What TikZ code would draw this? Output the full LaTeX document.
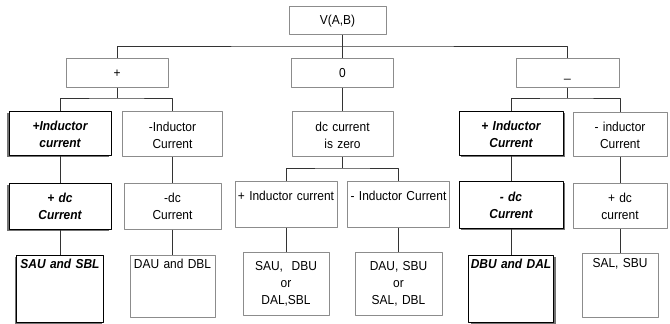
\documentclass[tikz,border=0pt]{standalone}
\usepackage{fontspec}
\setmainfont{Liberation Sans}[FakeStretch=0.92]
\usepackage{tikz}
\usetikzlibrary{shapes,backgrounds,calc,shadows}
\newcommand{\cellfont}{\fontsize{13bp}{17bp}\selectfont}

\begin{document}
\begin{tikzpicture}[line join=bevel,
  cell/.style={draw=black!45,fill=white,line width=0.6bp,inner sep=0pt,anchor=north,align=center,font=\cellfont},
  key/.style={cell,draw=black,line width=1bp,font=\cellfont\bfseries\itshape},
  keyleft/.style={key,drop shadow={shadow xshift=-2bp,shadow yshift=-2bp,fill=black!55,opacity=1}},
  keyright/.style={key,drop shadow={shadow xshift=2bp,shadow yshift=-2bp,fill=black!55,opacity=1}},
  link/.style={draw=black!80,line width=0.7bp},
]
\useasboundingbox (0bp,0bp) rectangle (670bp,324bp);
%%
\node (root) at (337.5bp,318bp) [cell,text width=97bp,text height=18bp,text depth=10bp] {V(A,B)};
  \node (plus) at (117bp,266bp) [cell,text width=102bp,text height=19bp,text depth=10bp] {+};
  \node (zero) at (342.5bp,266bp) [cell,text width=102bp,text height=19bp,text depth=10bp] {0};
  \node (minus) at (567.5bp,266bp) [cell,text width=103bp,text height=19bp,text depth=10bp] {\_};
  \coordinate (bus0) at (342.5bp,278bp);
  \coordinate (busP) at (117bp,226bp);
  \coordinate (busZ) at (342.5bp,156bp);
  \coordinate (busM) at (567.5bp,226bp);
%
  \node (pIL) at (60bp,213bp) [keyleft,text width=102bp,text height=19bp,text depth=25bp] {+Inductor\\current};
  \node (mIL) at (172.5bp,213bp) [cell,text width=100bp,text height=20bp,text depth=25bp] {-Inductor\\Current};
  \node (pdc) at (60bp,141bp) [keyleft,text width=102bp,text height=19bp,text depth=27bp] {+ dc\\Current};
  \node (mdc) at (172.5bp,141bp) [cell,text width=97bp,text height=19bp,text depth=27bp] {-dc\\Current};
  \node (sausbl) at (60bp,69bp) [keyleft,text width=87bp,text height=13bp,text depth=54bp] {SAU and SBL};
  \node (daudbl) at (172.5bp,69bp) [cell,text width=85bp,text height=13bp,text depth=49bp] {DAU and DBL};
%
  \node (dczero) at (342.5bp,213bp) [cell,text width=101bp,text height=20bp,text depth=25bp] {dc current\\is zero};
  \node (pILm) at (286bp,143bp) [cell,text width=102bp,text height=19bp,text depth=27bp] {+ Inductor current};
  \node (mILm) at (398.5bp,143bp) [cell,text width=102bp,text height=19bp,text depth=27bp] {- Inductor Current};
  \node (saudbu) at (286bp,72bp) [cell,text width=86bp,text height=18bp,text depth=45bp] {SAU,~ DBU\\or\\DAL,SBL};
  \node (dausbu) at (398.5bp,72bp) [cell,text width=87bp,text height=18bp,text depth=45bp] {DAU, SBU\\or\\SAL, DBL};
%
  \node (pILr) at (511bp,213bp) [keyright,text width=104bp,text height=19bp,text depth=25bp] {+ Inductor\\Current};
  \node (mILr) at (620bp,212bp) [cell,text width=94bp,text height=19bp,text depth=25bp] {- inductor\\Current};
  \node (mdcr) at (511bp,143bp) [keyright,text width=104bp,text height=20bp,text depth=27bp] {- dc\\Current};
  \node (pdcr) at (620bp,141bp) [cell,text width=94bp,text height=19bp,text depth=26bp] {+ dc\\current};
  \node (dbudal) at (511bp,69bp) [keyright,text width=85bp,text height=13bp,text depth=54bp] {DBU and DAL};
  \node (salsbu) at (620bp,71bp) [cell,text width=76bp,text height=14bp,text depth=50bp] {SAL, SBU};
%%
  \draw [link] (root.south -| zero.north) -- (zero.north);
  \draw [link] (plus.north) |- (bus0) -| (minus.north);
  \draw [link] (plus.south) -- (busP);
  \draw [link] (pIL.north) |- (busP) -| (mIL.north);
  \draw [link] (pIL.south) -- (pdc.north);
  \draw [link] (pdc.south) -- (sausbl.north);
  \draw [link] (mIL.south) -- (mdc.north);
  \draw [link] (mdc.south) -- (daudbl.north);
  \draw [link] (zero.south) -- (dczero.north);
  \draw [link] (dczero.south) -- (busZ);
  \draw [link] (pILm.north) |- (busZ) -| (mILm.north);
  \draw [link] (pILm.south) -- (saudbu.north);
  \draw [link] (mILm.south) -- (dausbu.north);
  \draw [link] (minus.south) -- (busM);
  \draw [link] (pILr.north) |- (busM) -| (mILr.north);
  \draw [link] (pILr.south) -- (mdcr.north);
  \draw [link] (mdcr.south) -- (dbudal.north);
  \draw [link] (mILr.south) -- (pdcr.north);
  \draw [link] (pdcr.south) -- (salsbu.north);
%
\end{tikzpicture}
\end{document}
